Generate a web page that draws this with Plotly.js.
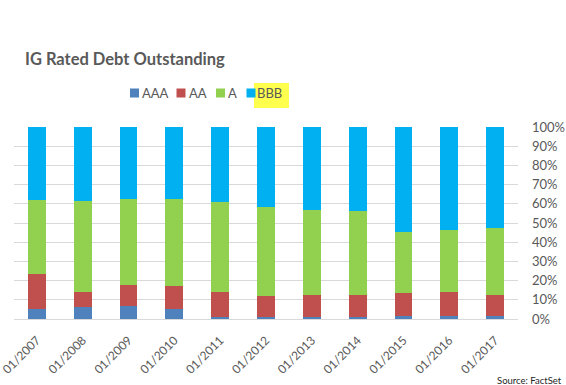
<!DOCTYPE html>
<html>
<head>
<meta charset="utf-8">
<script src="https://cdn.plot.ly/plotly-3.0.1.min.js"></script>
<style>html,body{margin:0;padding:0;background:#fff;}#chart{width:566px;height:385px;}</style>
</head>
<body>
<div id="chart"></div>
<script>
const categories = ["01/2007","01/2008","01/2009","01/2010","01/2011","01/2012","01/2013","01/2014","01/2015","01/2016","01/2017"];
const aaa = [5.0, 6.1, 6.6, 5.2, 1.0, 1.0, 1.0, 1.0, 1.5, 1.5, 1.7];
const aa  = [18.4, 7.8, 11.1, 12.1, 13.0, 10.8, 11.3, 11.7, 12.0, 12.7, 11.0];
const a   = [38.6, 47.7, 44.8, 45.0, 46.8, 46.5, 44.6, 43.4, 31.8, 32.3, 34.6];
const bbb = [38.0, 38.4, 37.5, 37.7, 39.2, 41.7, 43.1, 43.9, 54.7, 53.5, 52.7];
const yTicks = [0,10,20,30,40,50,60,70,80,90,100];
const yTickLabels = ["0%","10%","20%","30%","40%","50%","60%","70%","80%","90%","100%"];
const seriesNames = ["AAA","AA","A","BBB"];

const seriesVals = [aaa, aa, a, bbb];
const colors = ["#4f81bd","#c0504d","#92d050","#00b0f0"];
const FONT = 'Lato, "Open Sans", sans-serif';

const traces = seriesNames.map((n,i)=>({
  type:'bar', name:n, x:categories, y:seriesVals[i],
  marker:{color:colors[i], line:{width:0}}, hoverinfo:'skip', showlegend:false
}));

const W=566, H=385, L=14, R=48, T=127, B=66;
const pw = W-L-R, ph = H-T-B;
function px2x(p){return (p-L)/pw;}
function px2y(p){return (H-B-p)/ph;}

// custom compact legend (Excel style): square left edges and text left edges in px
const legSquareX = [130, 176.5, 216, 246.5];
const legTextX = [141, 188, 227, 256];
const legY = 93, sq = 9;

const shapes = [{type:'rect', xref:'paper', yref:'paper', x0:px2x(254), x1:px2x(289), y0:px2y(108), y1:px2y(83),
           fillcolor:'#ffff4d', line:{width:0}, layer:'above'}];
const annotations = [];
seriesNames.forEach((n,i)=>{
  shapes.push({type:'rect', xref:'paper', yref:'paper', x0:px2x(legSquareX[i]), x1:px2x(legSquareX[i]+sq),
               y0:px2y(legY+sq/2), y1:px2y(legY-sq/2), fillcolor:colors[i], line:{width:0}, layer:'above'});
  annotations.push({text:n, xref:'paper', yref:'paper', x:px2x(legTextX[i]-1), y:px2y(legY),
               xanchor:'left', yanchor:'middle', showarrow:false, font:{family:FONT, size:13, color:'#595959'}});
});
annotations.push({text:'Source: FactSet', xref:'paper', yref:'paper', x:px2x(564), y:px2y(380),
               xanchor:'right', yanchor:'middle', showarrow:false,
               font:{family:FONT, size:9.5, color:'#262626'}});

const layout = {
  width:W, height:H,
  margin:{l:L, r:R, t:T, b:B, pad:0},
  paper_bgcolor:'#fff', plot_bgcolor:'#fff',
  barmode:'stack', bargap:0.61,
  font:{family:FONT, color:'#595959'},
  title:{text:'IG Rated Debt Outstanding', x:25/W, xanchor:'left', y:1-59/H, yanchor:'middle',
         font:{family:FONT, size:16.5, weight:'bold', color:'#595959'}},
  showlegend:false,
  xaxis:{type:'category', tickangle:-45, tickfont:{family:FONT, size:12, color:'#595959'},
         ticklabelstandoff:11, showgrid:false, showline:false, ticks:'', fixedrange:true},
  yaxis:{side:'right', range:[0,100], tickvals:yTicks, ticktext:yTickLabels,
         tickfont:{family:FONT, size:13, color:'#595959'}, ticklabelstandoff:13,
         showgrid:true, gridcolor:'#d9d9d9', gridwidth:1,
         zeroline:true, zerolinecolor:'#d9d9d9', zerolinewidth:1, showline:false, ticks:'', fixedrange:true},
  shapes:shapes,
  annotations:annotations
};
Plotly.newPlot('chart', traces, layout, {displayModeBar:false, staticPlot:true});
</script>
</body>
</html>
